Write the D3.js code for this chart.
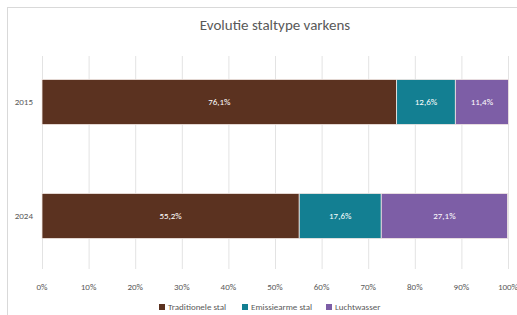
<!DOCTYPE html>
<html>
<head>
<meta charset="utf-8">
<script src="https://cdn.jsdelivr.net/npm/d3@7"></script>
<style>
  body { margin: 0; background: #fff; }
  svg { font-family: Carlito, "Open Sans", "Liberation Sans", sans-serif; }
</style>
</head>
<body>
<div id="main"></div>
<script>
var years = ["2015", "2024"]
var series = ["Traditionele stal", "Emissiearme stal", "Luchtwasser"]
var values2015 = [76.1, 12.6, 11.4]
var values2024 = [55.2, 17.6, 27.1]
var ticks = [0, 10, 20, 30, 40, 50, 60, 70, 80, 90, 100]
var colors = ["#5b3220", "#137f92", "#7d5ea6"]

var rows = [values2015, values2024]

var W = 517, H = 315
var svg = d3.select("#main").append("svg").attr("width", W).attr("height", H)

// chart border
svg.append("rect").attr("x", 7.5).attr("y", 7.5).attr("width", W).attr("height", H)
  .attr("fill", "none").attr("stroke", "#d9d9d9")

svg.append("text").attr("x", 275).attr("y", 30).attr("text-anchor", "middle")
  .attr("fill", "#595959").attr("font-size", "15px").text("Evolutie staltype varkens")

var x = d3.scaleLinear().domain([0, 100]).range([42, 508])
var yb = d3.scaleBand().domain(years).range([56, 262]).paddingInner(0.605).paddingOuter(0.206)

// grid
svg.append("g").selectAll("line").data(ticks).enter().append("line")
  .attr("x1", d => x(d) + 0.5).attr("x2", d => x(d) + 0.5)
  .attr("y1", 56).attr("y2", 269)
  .attr("stroke", "#e3e3e3")

svg.append("g").selectAll("text").data(ticks).enter().append("text")
  .attr("x", d => x(d)).attr("y", 290).attr("text-anchor", "middle")
  .attr("fill", "#595959").attr("font-size", "9px").text(d => d + "%")

var bars = svg.append("g")
rows.forEach((vals, i) => {
  var start = 0
  vals.forEach((v, j) => {
    var g = bars.append("g")
    g.append("rect")
      .attr("x", x(start)).attr("y", yb(years[i]))
      .attr("width", x(start + v) - x(start)).attr("height", yb.bandwidth())
      .attr("fill", colors[j]).attr("stroke", "#f2e8e4").attr("stroke-width", 0.8)
    g.append("text")
      .attr("x", x(start + v / 2)).attr("y", yb(years[i]) + yb.bandwidth() / 2 + 3)
      .attr("text-anchor", "middle").attr("fill", "#ffffff").attr("font-size", "9px")
      .text(v.toFixed(1).replace(".", ",") + "%")
    start += v
  })
})

svg.append("g").selectAll("text").data(years).enter().append("text")
  .attr("x", 33).attr("y", d => yb(d) + yb.bandwidth() / 2 + 3)
  .attr("text-anchor", "end").attr("fill", "#595959").attr("font-size", "9px").text(d => d)

// legend
var legX = [159, 242, 326]
var leg = svg.append("g").selectAll("g").data(series).enter().append("g")
  .attr("transform", (d, i) => `translate(${legX[i]},304)`)
leg.append("rect").attr("width", 6).attr("height", 6).attr("fill", (d, i) => colors[i])
leg.append("text").attr("x", 9).attr("y", 6).attr("fill", "#595959").attr("font-size", "9px").text(d => d)
</script>
</body>
</html>
